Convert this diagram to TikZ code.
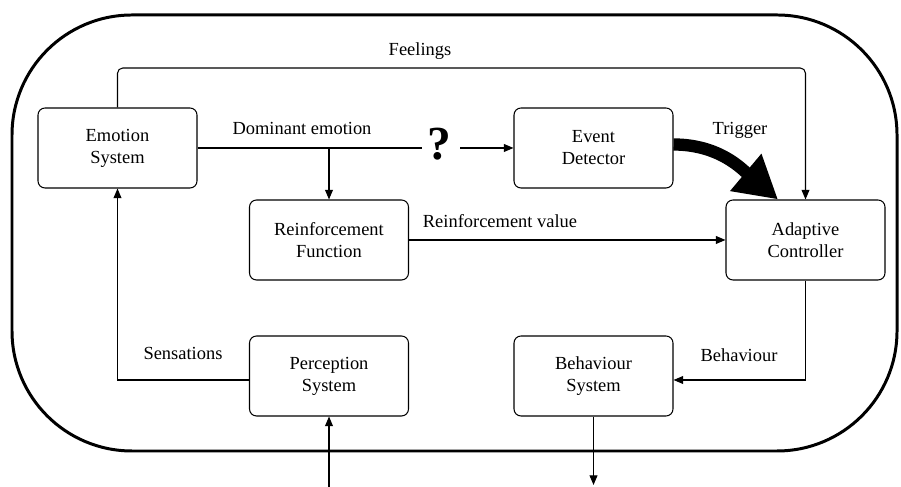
\documentclass[tikz,border=0pt]{standalone}
\usepackage{fontspec}
\setmainfont{Liberation Serif}
\usetikzlibrary{arrows.meta}
\tikzset{
  block/.style={draw, line width=0.6pt, rounded corners=4pt, align=center,
    minimum width=3.18cm, minimum height=1.6cm, inner sep=0pt,
    font=\fontsize{10.5}{12.5}\selectfont},
  flow/.style={line width=0.6pt, -{Triangle[length=5.5pt,width=4.5pt]}},
  plain/.style={line width=0.6pt},
  lbl/.style={font=\fontsize{10.5}{12.5}\selectfont, inner sep=0pt}
}
\begin{document}
\begin{tikzpicture}
                    \useasboundingbox (0,0) rectangle (18.02,9.74);
                    
                    % Drawing outer border
                    \draw [line width=1.7pt, rounded corners=2.4cm] (0.24,0.72) rectangle (17.94,9.44);%
                    
                    % Drawing boxes
                    \node [block] (es) at (2.35,6.78) {Emotion\\System};%
                    \node [block] (rf) at (6.58,4.94) {Reinforcement\\Function};%
                    \node [block] (ps) at (6.58,2.22) {Perception\\System};%
                    \node [block] (ed) at (11.87,6.78) {Event\\Detector};%
                    \node [block] (ac) at (16.11,4.94) {Adaptive\\Controller};%
                    \node [block] (bs) at (11.87,2.22) {Behaviour\\System};%
                    
                    % Marking point ?
                    \node [inner sep=0pt, font=\fontsize{27}{27}\bfseries] (q) at (8.78,6.86) {?};%
                    
                    % Drawing line Feelings
                    \coordinate (ftop) at (0,8.38);%
                    \draw [flow, rounded corners=3pt] (es.north) -- (es.north |- ftop) -| (ac.north);%
                    \node [lbl] (feel) at (8.4,8.72) {Feelings};%
                    
                    % Drawing line Dominant emotion
                    \draw [plain] (es.east) -- ([xshift=-3pt]es.east -| q.west);%
                    \draw [flow] ([xshift=5pt]q.east |- ed.west) -- (ed.west);%
                    \draw [flow, rounded corners=3pt] (es.east -| rf.north) -- (rf.north);%
                    \node [lbl] (dom) at (6.04,7.18) {Dominant emotion};%
                    
                    % Drawing line Reinforcement value
                    \draw [flow] (rf.east) -- (ac.west);%
                    \node [lbl] (rv) at (10.0,5.32) {Reinforcement value};%
                    
                    % Drawing arrow Trigger
                    \draw [line width=7pt, -{Triangle[length=24pt,width=26pt]}]
                      ([yshift=2pt]ed.east) to [out=0, in=140] ([xshift=-0.55cm]ac.north);%
                    \node [lbl] (trig) at (14.8,7.14) {Trigger};%
                    
                    % Drawing line Sensations
                    \draw [flow] ([yshift=-0.08cm]ps.west) -| (es.south);%
                    \node [lbl] (sens) at (3.66,2.68) {Sensations};%
                    
                    % Drawing line Behaviour
                    \draw [flow] (ac.south) |- ([yshift=-0.08cm]bs.east);%
                    \node [lbl] (beh) at (14.78,2.64) {Behaviour};%
                    
                    % Drawing input and output
                    \coordinate (inp) at (6.58,0);%
                    \coordinate (outp) at (11.87,0.04);%
                    \draw [flow] (inp) -- (ps.south);%
                    \draw [flow] (bs.south) -- (outp);%
                \end{tikzpicture}
\end{document}
